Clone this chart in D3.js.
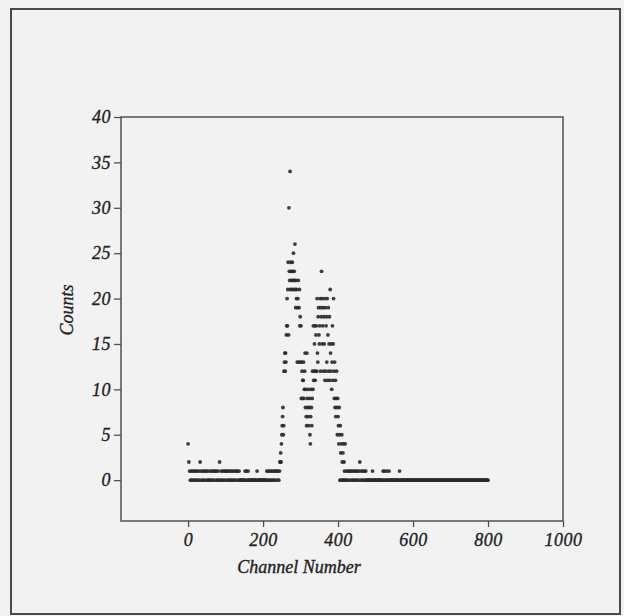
<!DOCTYPE html>
<html>
<head>
<meta charset="utf-8">
<script src="https://cdn.jsdelivr.net/npm/d3@7"></script>
<style>
  html, body { margin: 0; padding: 0; background: #f2f2f2; }
  svg { display: block; }
  .tick text { font-family: "Liberation Serif", "DejaVu Serif", serif; font-style: italic; }
</style>
</head>
<body>
<svg id="chart" width="624" height="616"></svg>
<script>
// ---- Data ----
const xTickLabels = [0, 200, 400, 600, 800, 1000];
const yTickLabels = [0, 5, 10, 15, 20, 25, 30, 35, 40];

// Low-channel baseline: channels 0..244, every 2nd channel
const lowStart = 0, lowStep = 2;
const lowCounts = [
  4,2,1,0,1,0,1,0,1,0,
  1,0,1,0,1,0,2,1,0,1,
  0,1,0,1,1,0,1,0,0,1,
  0,1,0,1,0,1,1,0,1,0,
  1,0,2,0,1,0,1,0,1,0,
  1,1,0,1,0,1,0,1,0,1,
  0,1,0,1,0,1,1,0,1,0,
  0,0,0,0,0,0,1,0,1,0,
  1,0,0,0,0,0,0,0,0,0,
  0,0,1,0,0,0,0,0,0,0,
  0,0,0,0,0,1,0,1,0,1,
  0,1,0,1,0,1,0,1,1,0,
  1,0,1
];

// Peak region: channels 245..420, every channel
const peakStart = 245, peakStep = 1;
const peakCounts = [
  2,2,3,2,4,5,6,7,8,5,
  6,12,13,14,12,14,13,16,17,20,
  17,21,24,16,30,23,22,34,21,24,
  23,22,21,24,23,22,25,21,23,22,
  26,21,19,22,20,21,13,19,20,22,
  13,19,21,17,18,13,17,9,13,12,
  9,11,11,13,9,10,12,14,8,10,
  7,6,14,9,8,7,10,6,8,9,
  5,4,7,10,8,6,9,12,10,17,
  11,12,15,17,11,12,16,17,12,20,
  14,13,18,19,16,15,17,20,12,19,
  18,23,20,15,17,19,12,18,15,20,
  11,19,12,17,18,13,20,11,16,19,
  12,15,18,11,21,14,12,15,10,13,
  17,11,15,20,12,9,13,8,11,7,
  9,12,8,5,9,7,6,4,8,5,
  0,6,3,0,4,5,2,0,3,4,
  0,2,1,0,4,0
];

// High-channel tail: channels 422..800, every 2nd channel
const tailStart = 422, tailStep = 2;
const tailCounts = [
  1,0,1,0,1,1,0,1,0,1,
  0,1,0,1,0,1,0,1,2,0,
  1,0,1,0,1,0,1,0,0,0,
  0,0,0,0,0,1,0,0,0,0,
  0,0,0,0,0,0,0,0,0,1,
  0,1,0,0,1,0,0,1,0,0,
  0,0,0,0,0,0,0,0,0,0,
  0,1,0,0,0,0,0,0,0,0,
  0,0,0,0,0,0,0,0,0,0,
  0,0,0,0,0,0,0,0,0,0,
  0,0,0,0,0,0,0,0,0,0,
  0,0,0,0,0,0,0,0,0,0,
  0,0,0,0,0,0,0,0,0,0,
  0,0,0,0,0,0,0,0,0,0,
  0,0,0,0,0,0,0,0,0,0,
  0,0,0,0,0,0,0,0,0,0,
  0,0,0,0,0,0,0,0,0,0,
  0,0,0,0,0,0,0,0,0,0,
  0,0,0,0,0,0,0,0,0,0
];

// ---- Build point table ----
function toPoints(start, step, counts) {
  return counts.map((c, i) => ({ ch: start + i * step, c }));
}
const points = [].concat(
  toPoints(lowStart, lowStep, lowCounts),
  toPoints(peakStart, peakStep, peakCounts),
  toPoints(tailStart, tailStep, tailCounts)
);

// ---- Chart ----
const svg = d3.select("#chart");
const W = 624, H = 616;

svg.append("rect").attr("width", W).attr("height", H).attr("fill", "#f2f2f2");
// page border (scanned document frame)
svg.append("rect")
  .attr("x", 11).attr("y", 9).attr("width", 609).attr("height", 605)
  .attr("fill", "none").attr("stroke", "#4a4a4a").attr("stroke-width", 2);

const plot = { left: 121, right: 563, top: 117, bottom: 521 };

const x = d3.scaleLinear().domain([-179, 1000]).range([plot.left, plot.right]);
const y = d3.scaleLinear().domain([-4.5, 40]).range([plot.bottom, plot.top]);

const frameColor = "#505050";
const textColor = "#222";

// axes
const yAxis = d3.axisLeft(y).tickValues(yTickLabels).tickSize(7).tickPadding(3).tickFormat(d3.format("d"));
const gy = svg.append("g").attr("transform", `translate(${plot.left},0)`).call(yAxis);
gy.select(".domain").remove();
gy.selectAll(".tick line").attr("stroke", frameColor).attr("stroke-width", 1.3);
gy.selectAll(".tick text").attr("font-size", 18).attr("fill", textColor)
  .attr("stroke", textColor).attr("stroke-width", 0.35).attr("letter-spacing", 0.5);

const xAxis = d3.axisBottom(x).tickValues(xTickLabels).tickSize(6).tickPadding(6).tickFormat(d3.format("d"));
const gx = svg.append("g").attr("transform", `translate(0,${plot.bottom})`).call(xAxis);
gx.select(".domain").remove();
gx.selectAll(".tick line").attr("stroke", frameColor).attr("stroke-width", 1.3);
gx.selectAll(".tick text").attr("font-size", 18).attr("fill", textColor)
  .attr("stroke", textColor).attr("stroke-width", 0.35).attr("letter-spacing", 0.5);

// plot frame
svg.append("rect")
  .attr("x", plot.left).attr("y", plot.top)
  .attr("width", plot.right - plot.left).attr("height", plot.bottom - plot.top)
  .attr("fill", "none").attr("stroke", frameColor).attr("stroke-width", 1.5);

// points
svg.append("g").selectAll("circle").data(points).join("circle")
  .attr("cx", d => x(d.ch))
  .attr("cy", d => y(d.c))
  .attr("r", 1.9)
  .attr("fill", "#2a2a2a")
  .attr("fill-opacity", 0.9);

// axis titles
svg.append("text")
  .attr("x", 299).attr("y", 573)
  .attr("text-anchor", "middle")
  .attr("font-family", "Liberation Serif, DejaVu Serif, serif")
  .attr("font-style", "italic").attr("font-size", 18).attr("fill", textColor)
  .attr("stroke", textColor).attr("stroke-width", 0.35)
  .text("Channel Number");

svg.append("text")
  .attr("transform", "translate(73,310) rotate(-90)")
  .attr("text-anchor", "middle")
  .attr("font-family", "Liberation Serif, DejaVu Serif, serif")
  .attr("font-style", "italic").attr("font-size", 18).attr("fill", textColor)
  .attr("stroke", textColor).attr("stroke-width", 0.35)
  .text("Counts");
</script>
</body>
</html>
